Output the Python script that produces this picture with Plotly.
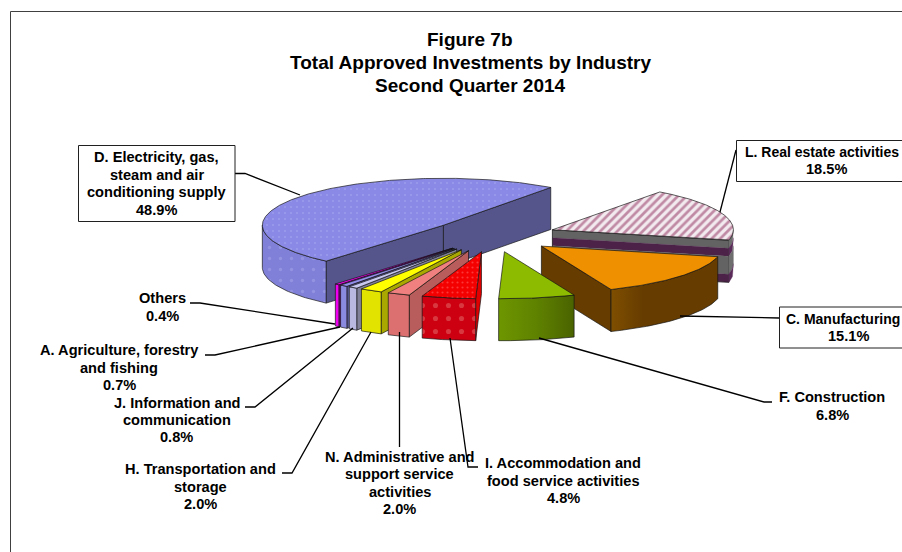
import numpy as np
import plotly.graph_objects as go

# ---- data, in pie order (counter-clockwise from the start angle) ----
categories = ["D. Electricity, gas,<br>steam and air<br>conditioning supply",
              "Others", "A. Agriculture, forestry<br>and fishing",
              "J. Information and<br>communication", "H. Transportation and<br>storage",
              "N. Administrative and<br>support service<br>activities",
              "I. Accommodation and<br>food service activities", "F. Construction",
              "C. Manufacturing", "L. Real estate activities"]
shares = [48.9, 0.4, 0.7, 0.8, 2.0, 2.0, 4.8, 6.8, 15.1, 18.5]
title_lines = ["Figure 7b", "Total Approved Investments by Industry", "Second Quarter 2014"]

# ---- projection of the tilted pie on the 902x552 canvas ----
CX, CY = 493.0, 235.5      # unexploded centre
RX, RY = 181.0, 47.0       # ellipse radii
PULL = 0.35                # explosion fraction
DEPTH = 42.0               # wall height
START = 53.6               # start angle of the first slice (deg)

# ---- styles per slice ----
top_style = {
    0: dict(fillcolor="#8A8AE6", fillpattern=dict(shape=".", bgcolor="#8A8AE6", fgcolor="#ACACF2", size=6, solidity=0.1)),
    1: dict(fillcolor="#FF00FF"), 2: dict(fillcolor="#9090E8"), 3: dict(fillcolor="#C8C8F0"),
    4: dict(fillcolor="#FFFF00"), 5: dict(fillcolor="#F08080"),
    6: dict(fillcolor="#F40000", fillpattern=dict(shape=".", bgcolor="#F40000", fgcolor="#FF7070", size=5, solidity=0.14)),
    7: dict(fillcolor="#8CBB00"), 8: dict(fillcolor="#EE9000"),
    9: dict(fillcolor="#F4ECF0", fillpattern=dict(shape="/", bgcolor="#F2EAEE", fgcolor="#8E2A5C", size=6, solidity=0.45)),
}
front_style = {
    0: dict(fillcolor="#8080D8", fillpattern=dict(shape=".", bgcolor="#8080D8", fgcolor="#A6A6EA", size=11, solidity=0.07)),
    1: dict(fillcolor="#F000F0"), 2: dict(fillcolor="#8A8AE0"), 3: dict(fillcolor="#B8B8E0"),
    4: dict(fillcolor="#E3E300"), 5: dict(fillcolor="#DC7070"),
    6: dict(fillcolor="#CC0010", fillpattern=dict(shape=".", bgcolor="#CC0010", fgcolor="#E47070", size=13, solidity=0.12)),
    7: dict(fillgradient=dict(type="horizontal", colorscale=[[0, "#6E9600"], [0.5, "#5F8200"], [1, "#4A6300"]])),
    8: dict(fillgradient=dict(type="horizontal", colorscale=[[0, "#7F4F00"], [0.3, "#663C00"], [1, "#663C00"]])),
}
side_colors = {0: "#55558C", 1: "#800080", 2: "#5F5FA0", 3: "#808098", 4: "#A8A800",
               5: "#B85C5C", 6: "#E00000", 7: "#5F8200", 8: "#663C00"}
band_colors = ["#636363", "#4C2248", "#636363", "#4C2248"]
band_heights = [8, 8, 18, 8]
EDGE = dict(color="rgba(20,20,20,0.85)", width=0.8)

paint_order = [0, 9, 8, 1, 2, 3, 4, 5, 6, 7]

# ---- labels: centre x, centre y, box (x0,y0,x1,y1) or None, leader polyline ----
label_layout = {
    0: dict(c=(156.5, 183.5), box=(78.5, 145.5, 235, 221.5), lead=[(235, 173.5), (245, 173.5), (300, 195)]),
    1: dict(c=(162, 307), box=None, lead=[(190, 303), (200, 303), (335, 324)]),
    2: dict(c=(119, 367.5), box=None, lead=[(205, 355), (215, 355), (340, 327)]),
    3: dict(c=(176.7, 420), box=None, lead=[(245, 407), (255, 407), (353, 328)]),
    4: dict(c=(200, 486.5), box=None, lead=[(282, 473), (292, 473), (371, 332)]),
    5: dict(c=(399.5, 483), box=None, lead=[(399.5, 447), (399.5, 332)]),
    6: dict(c=(563, 480.5), box=None, lead=[(478, 467), (468, 467), (450, 338)]),
    7: dict(c=(832, 406), box=None, lead=[(772, 402), (764, 402), (539, 338)]),
    8: dict(c=(848, 327.5), box=(779.5, 307, 920, 348), lead=[(779, 318), (680, 316)],
            name_cx=843.2, name_size=14),
    9: dict(c=(826.7, 160.5), box=(736.5, 140.5, 920, 181.5), lead=[(736, 150), (720, 212)],
            name_cx=822, name_size=14),
}
LABEL_FONT, LABEL_PITCH = 14.6, 17.4
TITLE_FONT, TITLE_PITCH = 19.0, 23.0
TITLE_C = (470, 62.7)


def on_rim(t, ox, oy, dz=0.0):
    r = np.radians(t)
    return ox + RX * np.cos(r), oy - RY * np.sin(r) + dz


def poly(fig, xs, ys, style, edge=EDGE):
    fig.add_trace(go.Scatter(x=list(xs), y=list(ys), mode="lines", fill="toself",
                             line=edge, hoverinfo="skip", showlegend=False, **style))


def text_block(lines, cx, cy, pitch, size, name_cx=None, name_size=None):
    out = []
    for n, line in enumerate(lines):
        is_name = name_cx is not None and n < len(lines) - 1
        out.append(dict(x=name_cx if is_name else cx, y=cy + (n - (len(lines) - 1) / 2) * pitch,
                        xref="x", yref="y", text=line, showarrow=False, align="center",
                        xanchor="center", yanchor="middle",
                        font=dict(family="Liberation Sans", size=name_size if is_name else size,
                                  color="#000000", weight="bold")))
    return out


fig = go.Figure()

spans = []
a = START
for v in shares:
    spans.append((a, a + v * 3.6))
    a += v * 3.6

for i in paint_order:
    t0, t1 = spans[i]
    mid = np.radians((t0 + t1) / 2)
    ox = CX + PULL * RX * np.cos(mid)
    oy = CY - PULL * RY * np.sin(mid)
    # cut faces: only those turned towards the viewer
    visible = []
    if np.cos(np.radians(t0)) > 0:
        visible.append(t0)
    if np.cos(np.radians(t1)) < 0:
        visible.append(t1)
    for t in visible:
        xe, ye = on_rim(t, ox, oy)
        if i == 9:
            h = 0
            for hb, col in zip(band_heights, band_colors):
                poly(fig, [ox, xe, xe, ox, ox], [oy + h, ye + h, ye + h + hb, oy + h + hb, oy + h],
                     dict(fillcolor=col), edge=dict(color=col, width=0.3))
                h += hb
            poly(fig, [ox, xe, xe, ox, ox], [oy, ye, ye + DEPTH, oy + DEPTH, oy],
                 dict(fillcolor="rgba(0,0,0,0)"))
        else:
            poly(fig, [ox, xe, xe, ox, ox], [oy, ye, ye + DEPTH, oy + DEPTH, oy],
                 dict(fillcolor=side_colors[i]))
    # outer wall: only the part facing the viewer
    ranges = []
    for k in (0, 360):
        lo, hi = max(t0, 180 + k), min(t1, 360 + k)
        if hi > lo:
            ranges.append((lo, hi))
    for lo, hi in ranges:
        ts = np.linspace(lo, hi, 60)
        if i == 9:
            h = 0
            for hb, col in zip(band_heights, ["#6E6E6E", "#5A2A58", "#6E6E6E", "#5A2A58"]):
                xt, yt = on_rim(ts, ox, oy, h)
                xb, yb = on_rim(ts[::-1], ox, oy, h + hb)
                poly(fig, np.r_[xt, xb, xt[0]], np.r_[yt, yb, yt[0]],
                     dict(fillcolor=col), edge=dict(color=col, width=0.3))
                h += hb
        else:
            xt, yt = on_rim(ts, ox, oy)
            xb, yb = on_rim(ts[::-1], ox, oy, DEPTH)
            poly(fig, np.r_[xt, xb, xt[0]], np.r_[yt, yb, yt[0]], front_style[i])
    # top face
    ts = np.linspace(t0, t1, max(8, int(t1 - t0) * 2))
    xt, yt = on_rim(ts, ox, oy)
    poly(fig, np.r_[ox, xt, ox], np.r_[oy, yt, oy], top_style[i])

# leader lines
for i in range(len(shares)):
    pts = label_layout[i]["lead"]
    fig.add_trace(go.Scatter(x=[p[0] for p in pts], y=[p[1] for p in pts], mode="lines",
                             line=dict(color="#000000", width=1.3), hoverinfo="skip", showlegend=False))

shapes = [
    dict(type="line", x0=10.5, x1=10.5, y0=11.5, y1=560, line=dict(color="#404040", width=1)),
    dict(type="line", x0=10.5, x1=910, y0=11.5, y1=11.5, line=dict(color="#404040", width=1)),
]
annotations = []
for i, (cat, v) in enumerate(zip(categories, shares)):
    spec = label_layout[i]
    if spec["box"]:
        x0, y0, x1, y1 = spec["box"]
        shapes.append(dict(type="rect", x0=x0, x1=x1, y0=y0, y1=y1, layer="above",
                           fillcolor="#FFFFFF", line=dict(color="#202020", width=1)))
    annotations += text_block(cat.split("<br>") + [f"{v:.1f}%"], spec["c"][0], spec["c"][1],
                              LABEL_PITCH, LABEL_FONT, spec.get("name_cx"), spec.get("name_size"))
annotations += text_block(title_lines, TITLE_C[0], TITLE_C[1], TITLE_PITCH, TITLE_FONT)

fig.update_layout(
    width=902, height=552, autosize=False,
    margin=dict(l=0, r=0, t=0, b=0),
    paper_bgcolor="#FFFFFF", plot_bgcolor="#FFFFFF",
    xaxis=dict(range=[0, 902], visible=False, fixedrange=True),
    yaxis=dict(range=[552, 0], visible=False, fixedrange=True),
    showlegend=False, shapes=shapes, annotations=annotations,
)
fig.write_html("out.html", config=dict(displayModeBar=False),
               post_script="document.body.style.margin='0';document.body.style.overflow='hidden';")
